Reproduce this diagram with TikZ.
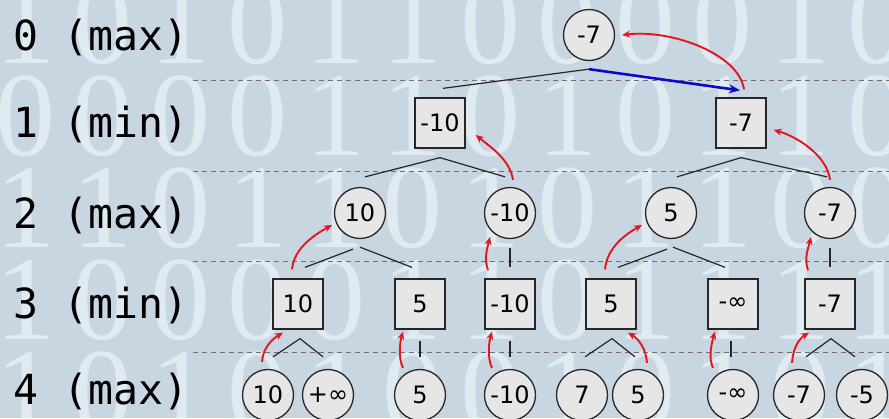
\documentclass[tikz,border=0pt]{standalone}
\usepackage{fontspec}
\newfontfamily\lblfont{DejaVu Sans Mono}
\newfontfamily\valfont{DejaVu Sans}
\newfontfamily\bgdigitfont{Liberation Serif}
\usetikzlibrary{calc,arrows.meta}
\definecolor{bgc}{HTML}{C8D6E2}
\definecolor{nodefill}{HTML}{E6E6E6}
\definecolor{nodeline}{HTML}{262626}
\definecolor{redarr}{HTML}{E3161C}
\definecolor{bluearr}{HTML}{0A0ACF}
\definecolor{dashgray}{HTML}{707070}
\definecolor{digitc}{HTML}{F2FDFF}
\begin{document}
\begin{tikzpicture}[x=1pt,y=-1pt,
  maxnode/.style={circle,draw=nodeline,fill=nodefill,line width=1.3pt,minimum size=51pt,inner sep=0pt,font=\valfont\fontsize{24}{24}\selectfont},
  minnode/.style={rectangle,draw=nodeline,fill=nodefill,line width=1.3pt,minimum size=50pt,inner sep=0pt,font=\valfont\fontsize{24}{24}\selectfont},
  lvllabel/.style={anchor=base west,inner sep=0pt,font=\lblfont\fontsize{41.5}{41.5}\selectfont},
  levelline/.style={dashgray,line width=1pt,dash pattern=on 5pt off 4pt},
  treeline/.style={draw=black!85,line width=1.2pt},
  minimax/.style={redarr,line width=1.9pt,-{Stealth[length=8pt,width=7pt]}},
  bestmove/.style={bluearr,line width=2.6pt,-{Stealth[length=11pt,width=9pt]}},
  bgdigit/.style={text=digitc,text opacity=0.55,inner sep=0pt,font=\bgdigitfont\fontsize{120}{120}\selectfont}
]
\useasboundingbox (0,0) rectangle (889,418);
\fill[bgc] (0,0) rectangle (889,418);
% background binary digits
\foreach \digits [count=\r] in {{1,0,1,0,1,1,0,0,0,0,1,0},{0,0,0,0,1,1,0,1,0,1,1,0},{1,1,0,1,1,0,1,0,1,1,0,0},{1,0,0,0,0,1,1,0,1,1,1,1},{1,0,1,0,1,0,0,1,0,1,0,1}}{
  \foreach \d [count=\c] in \digits {
    \node[bgdigit] (bg-\r-\c) at ({25+77.5*(\c-1)},{24+92*(\r-1)}) {\d};
  }
}
% level separators
\draw[levelline] (193,80) -- (889,80);
\draw[levelline] (193,171) -- (889,171);
\draw[levelline] (193,261) -- (889,261);
\draw[levelline] (193,352) -- (889,352);
% level labels
\node[lvllabel] (l0) at (13,50) {0 (max)};
\node[lvllabel] (l1) at (13,137) {1 (min)};
\node[lvllabel] (l2) at (13,228) {2 (max)};
\node[lvllabel] (l3) at (13,318) {3 (min)};
\node[lvllabel] (l4) at (13,404) {4 (max)};
% nodes
\node[maxnode] (n0) at (589,35) {-7};
\node[minnode] (n1a) at (440,123) {-10};
\node[minnode] (n1b) at (741,123) {-7};
\node[maxnode] (n2a) at (360,213) {10};
\node[maxnode] (n2b) at (510,213) {-10};
\node[maxnode] (n2c) at (671,213) {5};
\node[maxnode] (n2d) at (830,213) {-7};
\node[minnode] (n3a) at (298,304) {10};
\node[minnode] (n3b) at (420,304) {5};
\node[minnode] (n3c) at (510,304) {-10};
\node[minnode] (n3d) at (611,304) {5};
\node[minnode] (n3e) at (733,304) {-∞};
\node[minnode] (n3f) at (830,304) {-7};
\node[maxnode] (n4a) at (268,395) {10};
\node[maxnode] (n4b) at (328,395) {+∞};
\node[maxnode] (n4c) at (420,395) {5};
\node[maxnode] (n4d) at (510,395) {-10};
\node[maxnode] (n4e) at (582,395) {7};
\node[maxnode] (n4f) at (638,395) {5};
\node[maxnode] (n4g) at (733,395) {-∞};
\node[maxnode] (n4h) at (799,395) {-7};
\node[maxnode] (n4i) at (862,395) {-5};
% tree lines
\draw[treeline] ($(n0.south)+(0,8)$) -- ($(n1a.north)+(3,-9)$);
\draw[bestmove] ($(n0.south)+(0,8)$) -- ($(n1b.north)+(-1,-7)$);
\draw[treeline] ($(n2a.north)+(5,-10)$) -- ($(n1a.south)+(0,9)$) -- ($(n2b.north)+(-5,-10)$);
\draw[treeline] ($(n2c.north)+(6,-10)$) -- ($(n1b.south)+(0,9)$) -- ($(n2d.north)+(-3,-10)$);
\draw[treeline] ($(n2a.south)+(-7,10)$) -- ($(n3a.north)+(7,-11)$);
\draw[treeline] ($(n2a.south)+(0,8)$) -- ($(n3b.north)+(-8,-11)$);
\draw[treeline] ($(n2b.south)+(0,9)$) -- ($(n3c.north)+(0,-11)$);
\draw[treeline] ($(n2c.south)+(-4,10)$) -- ($(n3d.north)+(7,-11)$);
\draw[treeline] ($(n2c.south)+(2,8)$) -- ($(n3e.north)+(-8,-11)$);
\draw[treeline] ($(n2d.south)+(0,9)$) -- ($(n3f.north)+(0,-11)$);
\draw[treeline] ($(n4a.north)+(5,-12)$) -- ($(n3a.south)+(2,9)$) -- ($(n4b.north)+(-5,-12)$);
\draw[treeline] ($(n3b.south)+(0,11)$) -- ($(n4c.north)+(0,-12)$);
\draw[treeline] ($(n3c.south)+(0,11)$) -- ($(n4d.north)+(0,-12)$);
\draw[treeline] ($(n4e.north)+(3,-12)$) -- ($(n3d.south)+(1,9)$) -- ($(n4f.north)+(-3,-12)$);
\draw[treeline] ($(n3e.south)+(-2,11)$) -- ($(n4g.north)+(-2,-12)$);
\draw[treeline] ($(n4h.north)+(7,-12)$) -- ($(n3f.south)+(1,9)$) -- ($(n4i.north)+(-7,-12)$);
% minimax value propagation
\draw[minimax] ($(n1b.north)+(3,-8)$) .. controls +(-5,-35) and +(50,-6) .. ($(n0.east)+(7,0)$);
\draw[minimax] ($(n2b.north)+(3,-7)$) .. controls +(-3,-20) and +(15,12) .. ($(n1a.east)+(10,12)$);
\draw[minimax] ($(n2d.north)+(0,-7)$) .. controls +(-3,-25) and +(22,6) .. ($(n1b.east)+(7,7)$);
\draw[minimax] ($(n3a.north)+(-6,-9)$) .. controls +(2,-22) and +(-16,9) .. ($(n2a)+(-28,12)$);
\draw[minimax] ($(n3c.north)+(-22,-8)$) .. controls +(-4,-12) and +(-3,12) .. ($(n2b)+(-20,24)$);
\draw[minimax] ($(n3d.north)+(-6,-9)$) .. controls +(2,-22) and +(-16,9) .. ($(n2c)+(-29,12)$);
\draw[minimax] ($(n3f.north)+(-22,-8)$) .. controls +(-4,-12) and +(-3,12) .. ($(n2d)+(-19,24)$);
\draw[minimax] ($(n4a.north)+(-6,-7)$) .. controls +(1,-15) and +(-10,6) .. ($(n3a.south)+(-15,3)$);
\draw[minimax] ($(n4c.north)+(-17,-1)$) .. controls +(-5,-10) and +(-3,10) .. ($(n3b.south)+(-17,2)$);
\draw[minimax] ($(n4d.north)+(-18,-1)$) .. controls +(-5,-10) and +(-3,10) .. ($(n3c.south)+(-18,2)$);
\draw[minimax] ($(n4f.north)+(9,-6)$) .. controls +(-1,-15) and +(10,6) .. ($(n3d.south)+(17,3)$);
\draw[minimax] ($(n4g.north)+(-20,-1)$) .. controls +(-5,-10) and +(-3,10) .. ($(n3e.south)+(-18,2)$);
\draw[minimax] ($(n4h.north)+(-7,-6)$) .. controls +(1,-15) and +(-10,6) .. ($(n3f.south)+(-21,3)$);
\end{tikzpicture}
\end{document}
